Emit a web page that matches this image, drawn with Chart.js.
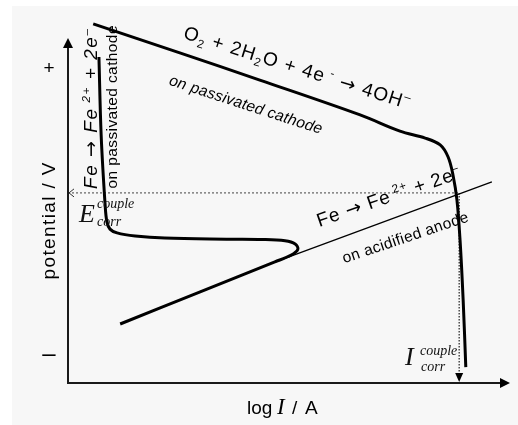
<!DOCTYPE html>
<html>
<head>
<meta charset="utf-8">
<script src="https://cdn.jsdelivr.net/npm/chart.js@4/dist/chart.umd.min.js"></script>
<style>
  html, body { margin: 0; padding: 0; background: #ffffff; }
  canvas { display: block; }
</style>
</head>
<body>
<canvas id="c" width="518" height="425"></canvas>
<script>
// ---- data (log I in arbitrary units 0..10, potential in arbitrary units 0..10) ----
const cathodeLogI = [0.57, 2.53, 4.34, 6.61, 7.51, 8.08, 8.42, 8.60, 8.71, 8.80, 8.87, 8.94, 9.00];
const cathodeE    = [10.41, 9.57, 8.78, 7.77, 7.30, 7.10, 6.90, 6.55, 6.03, 5.30, 4.14, 2.41, 0.46];

const anodeLogI = [0.70, 0.75, 0.84, 0.88, 0.95, 1.11, 1.52, 2.19, 3.67, 4.39, 4.91, 5.14, 5.20, 5.05, 4.68, 2.99, 1.18];
const anodeE    = [9.45, 7.19, 5.16, 4.67, 4.46, 4.35, 4.26, 4.20, 4.17, 4.16, 4.12, 4.03, 3.88, 3.71, 3.51, 2.64, 1.71];

const acidAnodeLogI = [4.57, 9.59];
const acidAnodeE    = [3.45, 5.83];

const corrLogI = 8.85;   // I_corr^couple
const corrE    = 5.51;   // E_corr^couple

const yTickValues = [9.10, 0.84];
const yTickLabels = ['+', '\u2013'];

const zip = (xs, ys) => xs.map((x, i) => ({ x: x, y: ys[i] }));

// ---- text helper: rich text, optionally stretched (letter spacing) to a target length ----
const SANS = '"Liberation Sans", Arial, sans-serif';
const SERIF = '"Liberation Serif", "Times New Roman", serif';
const ARROWF = '"DejaVu Sans", sans-serif';
function drawFit(ctx, segs, cx, cy, angDeg, targetLen, size, italic, family) {
  const style = italic ? 'italic ' : '';
  const items = [];
  for (const s of segs) {
    const fam = s.fam || family || SANS;
    const sz = s.k ? size * 0.62 : size * (s.scale || 1);
    const dy = s.k === 'sup' ? -size * 0.40 : (s.k === 'sub' ? size * 0.22 : 0);
    const f = (s.fam ? '' : style) + sz + 'px ' + fam;
    ctx.font = f;
    for (const ch of s.t) items.push({ ch: ch, f: f, w: ctx.measureText(ch).width, dy: dy + (s.dy || 0) });
  }
  const nat = items.reduce((a, b) => a + b.w, 0);
  const extra = targetLen ? (targetLen - nat) / (items.length - 1) : 0;
  ctx.save();
  ctx.translate(cx, cy);
  ctx.rotate(angDeg * Math.PI / 180);
  ctx.textAlign = 'left';
  ctx.textBaseline = 'alphabetic';
  let x = -(nat + extra * (items.length - 1)) / 2;
  const base = size * 0.36;
  for (const it of items) {
    ctx.font = it.f;
    ctx.fillText(it.ch, x, base + it.dy);
    x += it.w + extra;
  }
  ctx.restore();
}

function triangle(ctx, p1, p2, p3) {
  ctx.beginPath();
  ctx.moveTo(p1[0], p1[1]); ctx.lineTo(p2[0], p2[1]); ctx.lineTo(p3[0], p3[1]);
  ctx.closePath(); ctx.fill();
}

const ARW = { t: '\u2192', fam: ARROWF, scale: 1.0 };

const decor = {
  id: 'decor',
  beforeDraw(chart) {
    const ctx = chart.ctx;
    ctx.save();
    ctx.fillStyle = '#ffffff';
    ctx.fillRect(0, 0, chart.width, chart.height);
    ctx.fillStyle = '#f7f7f7';
    ctx.fillRect(12, 6, chart.width - 12, chart.height - 6);
    ctx.restore();
  },
  afterDraw(chart) {
    const ctx = chart.ctx;
    const xs = chart.scales.x, ys = chart.scales.y;
    const X = v => xs.getPixelForValue(v), Y = v => ys.getPixelForValue(v);
    const x0 = X(0), y0 = Y(0), xTop = X(10), yTop = Y(10);
    ctx.save();
    // axes
    ctx.strokeStyle = '#1a1a1a';
    ctx.fillStyle = '#000';
    ctx.lineWidth = 2;
    ctx.beginPath();
    ctx.moveTo(x0, yTop + 8); ctx.lineTo(x0, y0); ctx.lineTo(xTop - 8, y0);
    ctx.stroke();
    triangle(ctx, [x0, yTop], [x0 - 5, yTop + 10], [x0 + 5, yTop + 10]);
    triangle(ctx, [xTop, y0], [xTop - 10, y0 - 5], [xTop - 10, y0 + 5]);

    // dotted-line arrowheads
    const ex = X(corrLogI), ey = Y(corrE);
    ctx.lineWidth = 1;
    ctx.strokeStyle = '#333';
    ctx.beginPath();
    ctx.moveTo(x0 + 6, ey - 4); ctx.lineTo(x0 + 1, ey); ctx.lineTo(x0 + 6, ey + 4);
    ctx.stroke();
    ctx.fillStyle = '#000';
    triangle(ctx, [ex, y0 - 1], [ex - 4, y0 - 10], [ex + 4, y0 - 10]);

    // y ticks
    ctx.fillStyle = '#000';
    ctx.textAlign = 'center';
    ctx.textBaseline = 'middle';
    yTickValues.forEach((v, i) => {
      ctx.font = (i === 0 ? '19px ' : '24px ') + SANS;
      ctx.fillText(yTickLabels[i], 49, Y(v));
    });

    // axis titles
    drawFit(ctx, [{ t: 'potential / V' }], 48.5, 221, -90, 117, 19, false);
    ctx.textAlign = 'left';
    ctx.textBaseline = 'alphabetic';
    ctx.font = '19px ' + SANS; ctx.fillText('log', 247, 414);
    ctx.font = 'italic 23px ' + SERIF; ctx.fillText('I', 277, 414);
    ctx.font = '19px ' + SANS; ctx.fillText('/', 292, 414); ctx.fillText('A', 305, 414);

    // reaction labels
    ctx.fillStyle = '#000';
    drawFit(ctx, [{ t: 'O' }, { t: '2', k: 'sub' }, { t: ' + 2H' }, { t: '2', k: 'sub' }, { t: 'O + 4e' }, { t: ' -', k: 'sup' },
                  { t: ' ' }, ARW, { t: ' 4OH' }, { t: '\u2013', k: 'sup' }], 297, 67, 17.5, 236, 19, false);
    drawFit(ctx, [{ t: 'on passivated cathode' }], 246, 104, 18, 160, 15.5, true);
    drawFit(ctx, [{ t: 'Fe ' }, ARW, { t: ' Fe' }, { t: ' 2+', k: 'sup' }, { t: ' + 2e' }, { t: '\u2013', k: 'sup' }], 90.5, 109, -90, 160, 19, true);
    drawFit(ctx, [{ t: 'on passivated cathode' }], 111.6, 107, -90, 163, 15.5, false);
    drawFit(ctx, [{ t: 'Fe ' }, ARW, { t: ' Fe' }, { t: ' 2+', k: 'sup' }, { t: ' + 2e' }, { t: '\u2013', k: 'sup' }], 388, 196, -19, 150, 19, false);
    drawFit(ctx, [{ t: 'on acidified anode' }], 405, 237, -18.6, 132, 15.5, false);

    // E_corr and I_corr labels
    ctx.fillStyle = '#111';
    ctx.textAlign = 'left';
    ctx.textBaseline = 'alphabetic';
    ctx.font = 'italic 26px ' + SERIF; ctx.fillText('E', 79, ey + 29);
    ctx.font = 'italic 14px ' + SERIF; ctx.fillText('couple', 97, ey + 15); ctx.fillText('corr', 97, ey + 33);
    ctx.font = 'italic 26px ' + SERIF; ctx.fillText('I', 405, y0 - 18);
    ctx.font = 'italic 14px ' + SERIF; ctx.fillText('couple', 420, y0 - 28); ctx.fillText('corr', 421, y0 - 12);
    ctx.restore();
  }
};

const chart = new Chart(document.getElementById('c'), {
  type: 'line',
  data: {
    datasets: [
      { data: zip(cathodeLogI, cathodeE), borderColor: '#000', borderWidth: 3, tension: 0.35, clip: false },
      { data: zip(anodeLogI, anodeE), borderColor: '#000', borderWidth: 3, tension: 0.35, clip: false },
      { data: zip(acidAnodeLogI, acidAnodeE), borderColor: '#000', borderWidth: 1.3, tension: 0, clip: false },
      { data: [{ x: 0, y: corrE }, { x: corrLogI, y: corrE }], borderColor: '#444', borderWidth: 1, borderDash: [2, 2], tension: 0, clip: false },
      { data: [{ x: corrLogI, y: corrE }, { x: corrLogI, y: 0.25 }], borderColor: '#222', borderWidth: 1.2, borderDash: [1.5, 1.5], tension: 0, clip: false }
    ]
  },
  options: {
    responsive: false,
    devicePixelRatio: 1,
    animation: false,
    elements: { point: { radius: 0, hoverRadius: 0 }, line: { fill: false, capBezierPoints: true } },
    layout: { padding: { left: 68, right: 8, top: 38, bottom: 42 } },
    scales: {
      x: { type: 'linear', min: 0, max: 10, display: false },
      y: { type: 'linear', min: 0, max: 10, display: false }
    },
    plugins: { legend: { display: false }, tooltip: { enabled: false } },
    events: []
  },
  plugins: [decor]
});
</script>
</body>
</html>
